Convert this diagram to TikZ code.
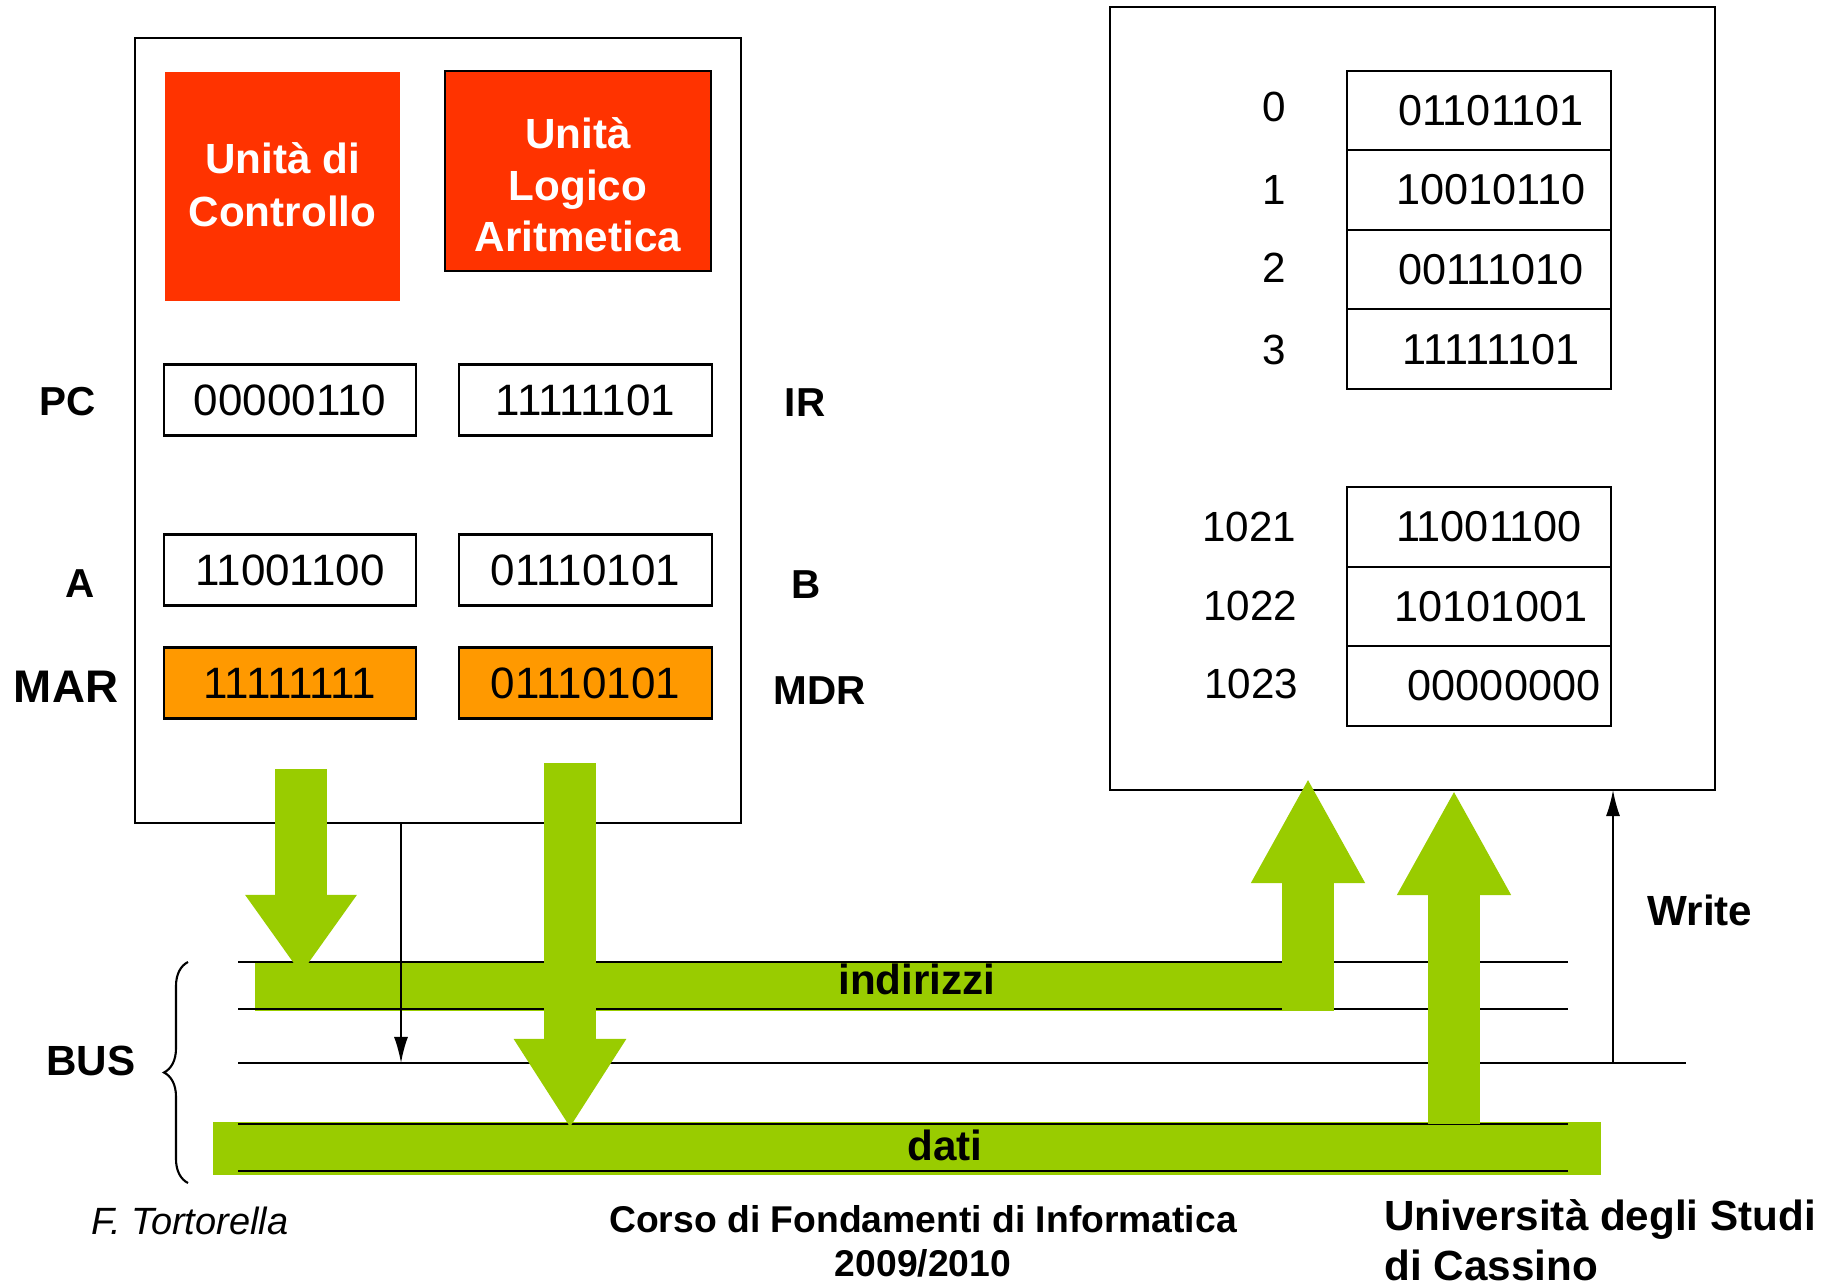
\documentclass[tikz,border=0pt]{standalone}
\usepackage{fontspec}
\setmainfont{Liberation Sans}
\usetikzlibrary{arrows.meta,positioning,decorations.pathreplacing}

\definecolor{unitred}{HTML}{FF3300}
\definecolor{regorange}{HTML}{FF9900}
\definecolor{busgreen}{HTML}{99CC00}

\tikzset{
  reg/.style={draw, line width=0.6pt, minimum width=2.52cm, minimum height=0.71cm,
    inner sep=0pt, outer sep=0pt, font=\fontsize{12.5}{14}\selectfont},
  cell/.style={draw, line width=0.6pt, minimum width=2.64cm, minimum height=0.795cm,
    inner sep=0pt, outer sep=0pt, font=\fontsize{12.3}{14}\selectfont},
  reglbl/.style={font=\fontsize{11.5}{14}\selectfont\bfseries},
  addr/.style={font=\fontsize{12}{14}\selectfont},
  unit/.style={fill=unitred, inner sep=0pt, outer sep=0pt},
  unittext/.style={text=white, align=center, font=\fontsize{12}{15}\selectfont\bfseries},
  band/.style={fill=busgreen, inner sep=0pt, outer sep=0pt},
  buslbl/.style={font=\fontsize{12}{14}\selectfont\bfseries},
  busline/.style={line width=0.8pt},
  bigarrow/.style={busgreen, line width=0.52cm, -{Triangle[width=1.06cm,length=#1]}},
  thinarrow/.style={line width=0.5pt, -{Latex[length=2.6mm,width=1.4mm]}},
}

\begin{document}
\begin{tikzpicture}[x=0.01cm,y=-0.01cm]
      \useasboundingbox (0,0) rectangle (1827,1285);
      \node[draw, line width=0.6pt, minimum width=6.06cm, minimum height=7.85cm] at (438,430.5) (cpu) {};
      \node[draw, line width=0.6pt, minimum width=6.05cm, minimum height=7.83cm] at (1412.5,398.5) (mem) {};
      \node[unit, minimum width=2.35cm, minimum height=2.29cm] at (282.5,186.5) (cu) {};
      \node[unittext] at (282.5,185) (cutxt) {Unità di\\Controllo};
      \node[unit, draw=black, line width=0.6pt, minimum width=2.66cm, minimum height=2.0cm] at (578,171) (alu) {};
      \node[unittext, font=\fontsize{12}{14.6}\selectfont\bfseries] at (578,185) (alutxt) {Unità\\Logico\\Aritmetica};
      \node[reg] at (290,400) (pc) {00000110};
      \node[reg] at (585.5,400) (ir) {11111101};
      \node[reg] at (290,570) (ra) {11001100};
      \node[reg] at (585.5,570) (rb) {01110101};
      \node[reg, fill=regorange] at (290,683) (mar) {11111111};
      \node[reg, fill=regorange] at (585.5,683) (mdr) {01110101};
      \node[reglbl] at (68,402) (pclbl) {PC};
      \node[reglbl] at (805,403) (irlbl) {IR};
      \node[reglbl] at (80,584) (albl) {A};
      \node[reglbl] at (806,585) (blbl) {B};
      \node[reglbl, font=\fontsize{13}{15}\selectfont\bfseries] at (66,687) (marlbl) {MAR};
      \node[reglbl] at (820,691) (mdrlbl) {MDR};
      \node[cell] at (1479,110.5) (m0) {\hspace{0.24cm}01101101};
      \node[cell, below=0pt of m0] (m1) {\hspace{0.24cm}10010110};
      \node[cell, below=0pt of m1] (m2) {\hspace{0.24cm}00111010};
      \node[cell, below=0pt of m2] (m3) {\hspace{0.24cm}11111101};
      \node[cell] at (1479,527) (m1021) {\hspace{0.2cm}11001100};
      \node[cell, below=0pt of m1021] (m1022) {\hspace{0.24cm}10101001};
      \node[cell, below=0pt of m1022] (m1023) {\hspace{0.5cm}00000000};
      \node[addr] at (1274,107) (a0) {0};
      \node[addr] at (1274,190) (a1) {1};
      \node[addr] at (1274,268) (a2) {2};
      \node[addr] at (1274,350) (a3) {3};
      \node[addr] at (1249,527) (a1021) {1021};
      \node[addr] at (1250,606) (a1022) {1022};
      \node[addr] at (1251,684) (a1023) {1023};
      \node[band, minimum width=10.78cm, minimum height=0.49cm] at (794,986.5) (addrbus) {};
      \node[band, minimum width=13.88cm, minimum height=0.53cm] at (907,1148.5) (databus) {};
      \foreach \y in {962,1009,1124,1171}
        \draw[busline] (238,\y) -- (1568,\y);
      \draw[busline] (238,1063) -- (1686,1063);
      \node[buslbl] at (917,979) (addrtxt) {indirizzi};
      \node[buslbl] at (945,1145) (datatxt) {dati};
      \coordinate (marout) at (301,769);
      \coordinate (marin) at (301,974);
      \coordinate (mdrout) at (570,763);
      \coordinate (mdrin) at (570,1128);
      \coordinate (addrup) at (1308,1011);
      \coordinate (addrtip) at (1308,778);
      \coordinate (dataup) at (1454,1124);
      \coordinate (datatip) at (1454,790);
      \coordinate (ctlout) at (401,823);
      \coordinate (ctlin) at (401,1063);
      \coordinate (wrout) at (1613,1063);
      \coordinate (wrin) at (1613,790);
      \draw[bigarrow=0.79cm] (marout) -- (marin);
      \draw[bigarrow=0.89cm] (mdrout) -- (mdrin);
      \draw[bigarrow=1.05cm] (addrup) -- (addrtip);
      \draw[bigarrow=1.05cm] (dataup) -- (datatip);
      \draw[thinarrow] (ctlout) -- (ctlin);
      \draw[thinarrow] (wrout) -- (wrin);
      \draw[decorate, decoration={brace, amplitude=0.24cm}, line width=0.6pt] (188,1183) -- (188,962);
      \node[buslbl] at (91,1061) (buslabel) {BUS};
      \node[buslbl] at (1700,910) (wrlbl) {Write};
      \node[font=\fontsize{10.8}{12}\selectfont\itshape] at (190,1221) (author) {F. Tortorella};
      \node[align=center, font=\fontsize{10.6}{12.5}\selectfont\bfseries] at (923,1241) (course) {Corso di Fondamenti di Informatica\\2009/2010};
      \node[anchor=west, align=left, font=\fontsize{12}{14.2}\selectfont\bfseries] at (1372,1240) (univ) {Università degli Studi\\di Cassino};
\end{tikzpicture}
\end{document}
